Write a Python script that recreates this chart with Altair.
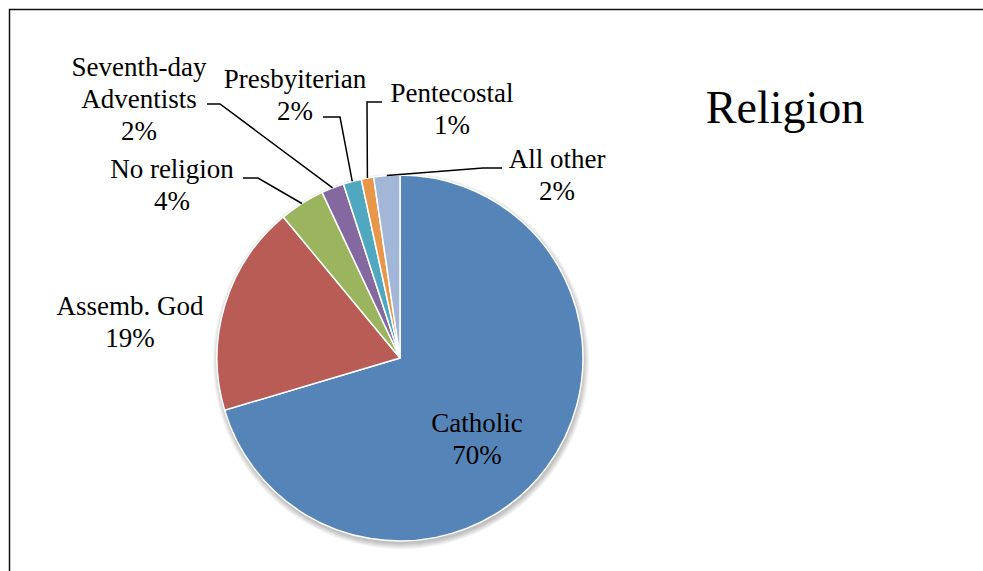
import altair as alt
import numpy as np
import pandas as pd

# ---- data -------------------------------------------------------------
categories = ["Catholic", "Assemb. God", "No religion", "Seventh-day Adventists",
              "Presbyiterian", "Pentecostal", "All other"]
shares = [70.4, 18.6, 4.0, 2.0, 1.6, 1.1, 2.3]
label_names = ["Catholic", "Assemb. God", "No religion", "Seventh-day\nAdventists",
               "Presbyiterian", "Pentecostal", "All other"]

# ---- style / layout ---------------------------------------------------
colors = ["#5585B8", "#B85C55", "#9BB55F", "#8468A0", "#4FA8C0", "#E8974A", "#A2B6D8"]
CX, CY, R = 400, 358, 183
FONT = "Liberation Serif"

# centre x and first-line y of each label (pixels)
label_pos = {
    "Catholic": (477, 424),
    "Assemb. God": (130, 307),
    "No religion": (172, 170),
    "Seventh-day Adventists": (139, 68),
    "Presbyiterian": (295, 80),
    "Pentecostal": (452, 94),
    "All other": (557, 160),
}
# leader line: label end and elbow, then on to the slice edge
leader_pts = {
    "No religion": [(243, 178), (258, 178)],
    "Seventh-day Adventists": [(207, 104), (220, 104)],
    "Presbyiterian": [(323, 117), (340, 117)],
    "Pentecostal": [(382, 102), (367, 102)],
    "All other": [(502, 168), (483, 168)],
}

slices = pd.DataFrame({
    "category": categories,
    "share": shares,
    "order": range(len(categories)),
})

# mid-angle of each slice (clockwise from 12 o'clock)
total = float(np.sum(shares))
cum = np.cumsum(shares)
mid = (cum - np.array(shares) / 2) / total * 2 * np.pi
edge = {c: (CX + R * np.sin(a), CY - R * np.cos(a)) for c, a in zip(categories, mid)}

labels = pd.DataFrame({
    "category": categories,
    "text": [f"{n}\n{round(v)}%" for n, v in zip(label_names, shares)],
    "lx": [label_pos[c][0] for c in categories],
    "ly": [label_pos[c][1] for c in categories],
})

rows = []
for c, pts in leader_pts.items():
    for i, (x, y) in enumerate(pts + [edge[c]]):
        rows.append({"category": c, "i": i, "px": x, "py": y})
leaders = pd.DataFrame(rows)

color_scale = alt.Scale(domain=categories, range=colors)

# soft drop shadow under the pie
shadow_layers = [
    alt.Chart(slices).mark_arc(color="black", opacity=0.045).encode(
        theta=alt.value(0), theta2=alt.value(2 * np.pi),
        radius=alt.value(R + k), x=alt.value(CX + 1), y=alt.value(CY + 3),
    ).transform_filter(alt.datum.order == 0)
    for k in range(0, 6)
]

pie = alt.Chart(slices).mark_arc(stroke="white", strokeWidth=1.5).encode(
    theta=alt.Theta("share:Q", stack=True),
    order=alt.Order("order:Q"),
    color=alt.Color("category:N", scale=color_scale, legend=None),
    radius=alt.value(R),
    x=alt.value(CX),
    y=alt.value(CY),
)

lines = alt.Chart(leaders).mark_line(color="black", strokeWidth=1.5).encode(
    x=alt.X("px:Q", scale=None),
    y=alt.Y("py:Q", scale=None),
    detail="category:N",
    order="i:Q",
)

text = alt.Chart(labels).mark_text(
    font=FONT, fontSize=27, lineBreak="\n", lineHeight=32,
    align="center", baseline="middle", color="black",
).encode(
    x=alt.X("lx:Q", scale=None),
    y=alt.Y("ly:Q", scale=None),
    text="text:N",
)

title = alt.Chart(slices).mark_text(
    font=FONT, fontSize=46, align="center", baseline="middle", color="black",
).encode(
    x=alt.value(785), y=alt.value(109), text=alt.value("Religion"),
).transform_filter(alt.datum.order == 0)

frame = alt.Chart(slices).mark_rect(
    fill=None, stroke="#111111", strokeWidth=1.5,
).encode(
    x=alt.value(9.5), x2=alt.value(1000), y=alt.value(9.5), y2=alt.value(600),
).transform_filter(alt.datum.order == 0)

chart = alt.layer(*shadow_layers, pie, lines, text, title, frame).properties(
    width=983, height=571, padding=0,
    autosize=alt.AutoSizeParams(type="none"),
    background="white",
).configure_view(stroke=None)

chart.save("out.html", embed_options={"renderer": "svg", "actions": False})
